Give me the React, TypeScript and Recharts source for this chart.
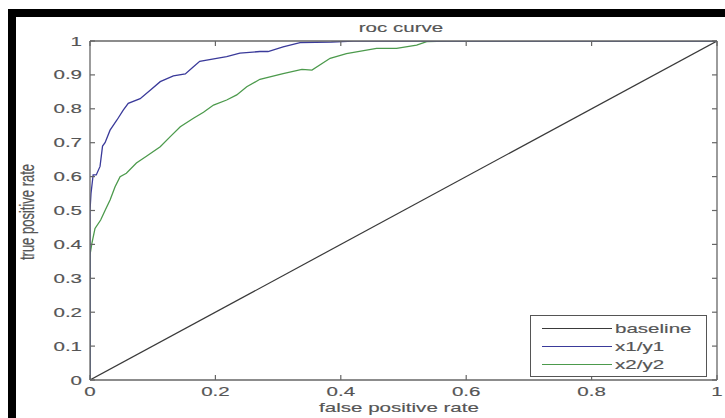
import { LineChart, Line, XAxis, YAxis, Legend } from "recharts";

const xTicks = [0, 0.2, 0.4, 0.6, 0.8, 1];
const yTicks = [0, 0.1, 0.2, 0.3, 0.4, 0.5, 0.6, 0.7, 0.8, 0.9, 1];

const baselineX = [0, 1];
const baselineY = [0, 1];

const fpr1 = [0, 0, 0.0016, 0.005, 0.01, 0.016, 0.02, 0.024, 0.032, 0.043, 0.053, 0.061, 0.08, 0.096, 0.112, 0.133, 0.152, 0.165, 0.175, 0.202, 0.218, 0.239, 0.271, 0.284, 0.308, 0.335, 0.385, 0.42, 1];
const tpr1 = [0, 0.5, 0.55, 0.605, 0.605, 0.63, 0.69, 0.7, 0.737, 0.767, 0.796, 0.816, 0.83, 0.855, 0.88, 0.897, 0.903, 0.924, 0.94, 0.949, 0.954, 0.964, 0.969, 0.969, 0.983, 0.995, 0.997, 1, 1];

const fpr2 = [0, 0, 0.003, 0.008, 0.017, 0.024, 0.032, 0.04, 0.048, 0.058, 0.074, 0.09, 0.112, 0.128, 0.144, 0.165, 0.181, 0.197, 0.218, 0.234, 0.25, 0.271, 0.308, 0.338, 0.354, 0.383, 0.409, 0.457, 0.489, 0.521, 0.537, 0.57, 1];
const tpr2 = [0, 0.369, 0.403, 0.447, 0.472, 0.5, 0.531, 0.57, 0.6, 0.61, 0.64, 0.66, 0.688, 0.718, 0.747, 0.772, 0.79, 0.811, 0.826, 0.841, 0.865, 0.887, 0.904, 0.916, 0.914, 0.949, 0.963, 0.978, 0.978, 0.988, 0.998, 1, 1];

const seriesNames = ["baseline", "x1/y1", "x2/y2"];
const seriesColors = ["#3a3a3a", "#3a3a9a", "#4c9a4c"];

const toPoints = (xs: number[], ys: number[]) => xs.map((x, i) => ({ x, y: ys[i] }));

const FONT = "'Liberation Sans', Arial, sans-serif";
const TEXT = "#555";
const AXIS = "#666";
const STRETCH = 1.58;
const TICK = 5;
const THICK = 0.15;

const fmt = (v: number) => String(Math.round(v * 10) / 10);

const labelStyle = {
  position: "absolute" as const,
  fontFamily: FONT,
  fontSize: 13,
  color: TEXT,
  whiteSpace: "nowrap" as const,
  WebkitTextStroke: `${THICK}px ${TEXT}`,
};

function BottomTick({ x, y, payload }: any) {
  return (
    <g>
      <line x1={x} x2={x} y1={y} y2={y - TICK} stroke={AXIS} strokeWidth={1.2} />
      <text
        transform={`translate(${x},${y + 11}) scale(${STRETCH},1)`}
        textAnchor="middle"
        dominantBaseline="central"
        fill={TEXT}
        stroke={TEXT}
        strokeWidth={THICK}
        fontSize={13}
        fontFamily={FONT}
      >
        {fmt(payload.value)}
      </text>
    </g>
  );
}

function LeftTick({ x, y, payload }: any) {
  return (
    <g>
      <line x1={x} x2={x + TICK} y1={y} y2={y} stroke={AXIS} strokeWidth={1.2} />
      <text
        transform={`translate(${x - 8},${y}) scale(${STRETCH},1)`}
        textAnchor="end"
        dominantBaseline="central"
        fill={TEXT}
        stroke={TEXT}
        strokeWidth={THICK}
        fontSize={13}
        fontFamily={FONT}
      >
        {fmt(payload.value)}
      </text>
    </g>
  );
}

function TopTick({ x, y }: any) {
  return <line x1={x} x2={x} y1={y} y2={y + TICK} stroke={AXIS} strokeWidth={1.2} />;
}

function RightTick({ x, y }: any) {
  return <line x1={x} x2={x - TICK} y1={y} y2={y} stroke={AXIS} strokeWidth={1.2} />;
}

function LegendBox() {
  return (
    <div
      style={{
        width: 175,
        height: 57,
        border: "1px solid #555",
        background: "#fff",
        boxSizing: "content-box",
        paddingTop: 3,
      }}
    >
      {seriesNames.map((name, i) => (
        <div key={name} style={{ display: "flex", alignItems: "center", height: 18 }}>
          <div style={{ marginLeft: 11, width: 70, height: 0, borderTop: `1px solid ${seriesColors[i]}` }} />
          <span
            style={{
              marginLeft: 3,
              fontFamily: FONT,
              fontSize: 13,
              color: TEXT,
              WebkitTextStroke: `${THICK}px ${TEXT}`,
              display: "inline-block",
              transform: `scaleX(${STRETCH})`,
              transformOrigin: "left center",
              whiteSpace: "nowrap",
            }}
          >
            {name}
          </span>
        </div>
      ))}
    </div>
  );
}

export default function App() {
  return (
    <div style={{ position: "absolute", left: 0, top: 0, width: 725, height: 418, background: "#fff", overflow: "hidden" }}>
      <LineChart width={725} height={418} margin={{ top: 40, right: 7, bottom: 37, left: 89 }}>
        <XAxis
          xAxisId="bottom"
          type="number"
          dataKey="x"
          domain={[0, 1]}
          ticks={xTicks}
          allowDataOverflow
          height={1}
          tickSize={0}
          tickMargin={0}
          tickLine={false}
          axisLine={{ stroke: AXIS, strokeWidth: 1.3 }}
          tick={<BottomTick />}
          interval={0}
        />
        <XAxis
          xAxisId="top"
          orientation="top"
          type="number"
          dataKey="x"
          domain={[0, 1]}
          ticks={xTicks}
          allowDataOverflow
          height={1}
          tickSize={0}
          tickMargin={0}
          tickLine={false}
          axisLine={{ stroke: AXIS, strokeWidth: 1.3 }}
          tick={<TopTick />}
          interval={0}
        />
        <YAxis
          yAxisId="left"
          type="number"
          domain={[0, 1]}
          ticks={yTicks}
          allowDataOverflow
          width={1}
          tickSize={0}
          tickMargin={0}
          tickLine={false}
          axisLine={{ stroke: AXIS, strokeWidth: 1.3 }}
          tick={<LeftTick />}
          interval={0}
        />
        <YAxis
          yAxisId="right"
          orientation="right"
          type="number"
          domain={[0, 1]}
          ticks={yTicks}
          allowDataOverflow
          width={1}
          tickSize={0}
          tickMargin={0}
          tickLine={false}
          axisLine={{ stroke: AXIS, strokeWidth: 1.3 }}
          tick={<RightTick />}
          interval={0}
        />
        <Line
          xAxisId="bottom"
          yAxisId="left"
          data={toPoints(baselineX, baselineY)}
          dataKey="y"
          name={seriesNames[0]}
          type="linear"
          stroke={seriesColors[0]}
          strokeWidth={1.2}
          dot={false}
          isAnimationActive={false}
        />
        <Line
          xAxisId="bottom"
          yAxisId="left"
          data={toPoints(fpr2, tpr2)}
          dataKey="y"
          name={seriesNames[2]}
          type="linear"
          stroke={seriesColors[2]}
          strokeWidth={1.3}
          dot={false}
          isAnimationActive={false}
        />
        <Line
          xAxisId="bottom"
          yAxisId="left"
          data={toPoints(fpr1, tpr1)}
          dataKey="y"
          name={seriesNames[1]}
          type="linear"
          stroke={seriesColors[1]}
          strokeWidth={1.3}
          dot={false}
          isAnimationActive={false}
        />
        <Legend
          layout="vertical"
          align="center"
          verticalAlign="middle"
          content={() => <LegendBox />}
          wrapperStyle={{ left: 530, top: 315, width: 177, height: 61 }}
        />
      </LineChart>

      {/* black frame strips from the original screenshot */}
      <div style={{ position: "absolute", left: 8, top: 9, width: 717, height: 8, background: "#000" }} />
      <div style={{ position: "absolute", left: 8, top: 9, width: 8, height: 409, background: "#000" }} />

      <div style={{ ...labelStyle, left: 401, top: 27, transform: `translate(-50%,-50%) scaleX(${STRETCH})` }}>
        roc curve
      </div>
      <div style={{ ...labelStyle, left: 399, top: 407, transform: `translate(-50%,-50%) scaleX(${STRETCH})` }}>
        false positive rate
      </div>
      <div
        style={{
          ...labelStyle,
          left: 27,
          top: 212,
          transform: `translate(-50%,-50%) rotate(-90deg) scale(1,${STRETCH})`,
        }}
      >
        true positive rate
      </div>
    </div>
  );
}
